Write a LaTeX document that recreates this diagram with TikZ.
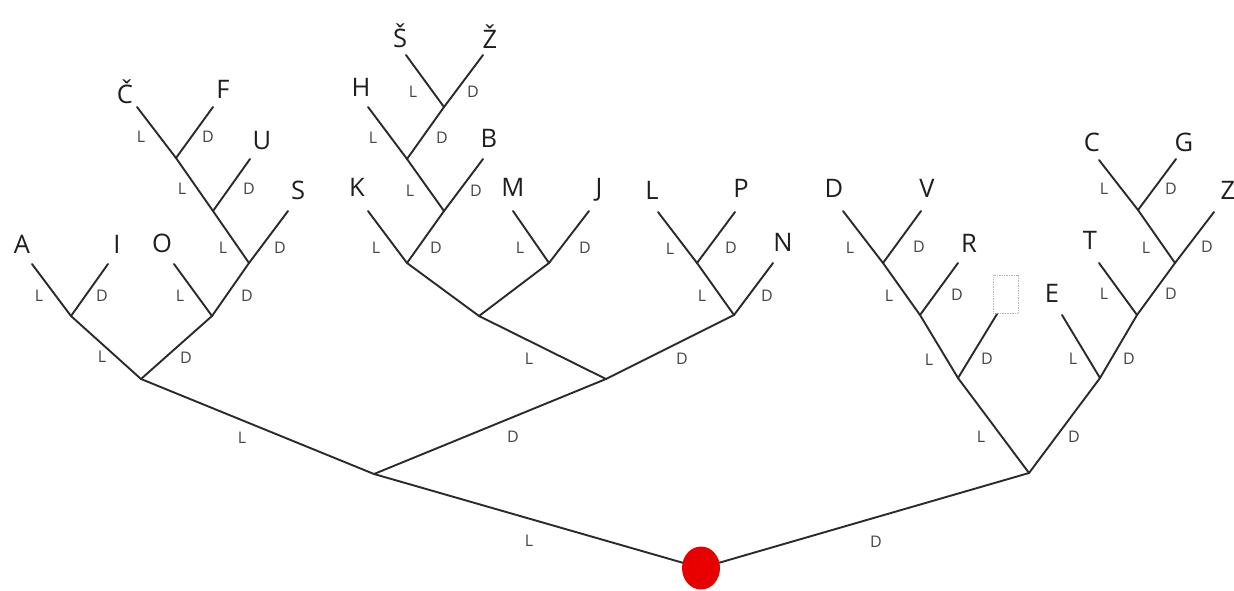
\documentclass[tikz,border=0pt]{standalone}
\usepackage{fontspec}
\setmainfont{Open Sans}
\usetikzlibrary{shapes.geometric}
\definecolor{linec}{HTML}{2A2A2A}
\definecolor{leafc}{HTML}{1E1E1E}
\definecolor{labc}{HTML}{444444}
\definecolor{rootred}{HTML}{E80000}
\tikzset{
  br/.style={draw=linec, line width=1.9pt, line cap=round, line join=round},
  leaf/.style={anchor=base, inner sep=0pt, text=leafc, font=\fontsize{25.5}{25.5}\selectfont},
  lab/.style={anchor=base, inner sep=0pt, text=labc, font=\fontsize{16}{16}\selectfont},
  rootdot/.style={ellipse, fill=rootred, draw=none, minimum width=38pt, minimum height=43pt, inner sep=0pt},
  emptybox/.style={draw=gray!60, densely dotted, line width=0.7pt}
}
\begin{document}
\begin{tikzpicture}[x=1pt, y=-1pt]
\useasboundingbox (0,0) rectangle (1234,590);
% ---- junctions ----
\node[rootdot] (root) at (701,568) {};
\coordinate (nL) at (374,474);
\coordinate (nD) at (1029,473);
\coordinate (nLL) at (141,379);
\coordinate (nLD) at (606,379);
\coordinate (nLLL) at (71,316);
\coordinate (nLLD) at (212,316);
\coordinate (nLLDD) at (249,263);
\coordinate (nU) at (213,211);
\coordinate (nCF) at (176,158);
\coordinate (nLDL) at (479,316);
\coordinate (nLDD) at (734,315);
\coordinate (nK) at (407,263);
\coordinate (nMJ) at (549,263);
\coordinate (nB) at (444,211);
\coordinate (nH) at (407,159);
\coordinate (nSZ) at (444,107);
\coordinate (nLP) at (697,263);
\coordinate (nDL) at (958,378);
\coordinate (nDD) at (1100,378);
\coordinate (nBox) at (920,315);
\coordinate (nDV) at (883,263);
\coordinate (nT) at (1137,315);
\coordinate (nZ) at (1175,263);
\coordinate (nCG) at (1138,210);
% ---- leaf line ends ----
\coordinate (eA) at (32,264);
\coordinate (eI) at (108,264);
\coordinate (eO) at (174,264);
\coordinate (eS) at (288,211);
\coordinate (eU) at (250,159);
\coordinate (eCc) at (137,107);
\coordinate (eF) at (213,107);
\coordinate (eK) at (368,211);
\coordinate (eBt) at (483,159);
\coordinate (eH) at (368,107);
\coordinate (eSs) at (406,55);
\coordinate (eZz) at (483,55);
\coordinate (eM) at (513,211);
\coordinate (eJ) at (589,211);
\coordinate (eN) at (773,263);
\coordinate (eL) at (658,212);
\coordinate (eP) at (735,212);
\coordinate (eD) at (843,211);
\coordinate (eV) at (921,211);
\coordinate (eR) at (958,263);
\coordinate (eBox) at (997,314);
\coordinate (eE) at (1062,315);
\coordinate (eT) at (1099,263);
\coordinate (eZ) at (1214,212);
\coordinate (eC) at (1099,160);
\coordinate (eG) at (1176,159);
% ---- branches ----
\draw[br] (root) -- (nL);
\draw[br] (root) -- (nD);
\draw[br] (nL) -- (nLL);
\draw[br] (nL) -- (nLD);
\draw[br] (nLL) -- (nLLL);
\draw[br] (nLL) -- (nLLD);
\draw[br] (nLLL) -- (eA);
\draw[br] (nLLL) -- (eI);
\draw[br] (nLLD) -- (eO);
\draw[br] (nLLD) -- (nLLDD);
\draw[br] (nLLDD) -- (nU);
\draw[br] (nLLDD) -- (eS);
\draw[br] (nU) -- (nCF);
\draw[br] (nU) -- (eU);
\draw[br] (nCF) -- (eCc);
\draw[br] (nCF) -- (eF);
\draw[br] (nLD) -- (nLDL);
\draw[br] (nLD) -- (nLDD);
\draw[br] (nLDL) -- (nK);
\draw[br] (nLDL) -- (nMJ);
\draw[br] (nK) -- (eK);
\draw[br] (nK) -- (nB);
\draw[br] (nB) -- (nH);
\draw[br] (nB) -- (eBt);
\draw[br] (nH) -- (eH);
\draw[br] (nH) -- (nSZ);
\draw[br] (nSZ) -- (eSs);
\draw[br] (nSZ) -- (eZz);
\draw[br] (nMJ) -- (eM);
\draw[br] (nMJ) -- (eJ);
\draw[br] (nLDD) -- (nLP);
\draw[br] (nLDD) -- (eN);
\draw[br] (nLP) -- (eL);
\draw[br] (nLP) -- (eP);
\draw[br] (nD) -- (nDL);
\draw[br] (nD) -- (nDD);
\draw[br] (nDL) -- (nBox);
\draw[br] (nDL) -- (eBox);
\draw[br] (nBox) -- (nDV);
\draw[br] (nBox) -- (eR);
\draw[br] (nDV) -- (eD);
\draw[br] (nDV) -- (eV);
\draw[br] (nDD) -- (eE);
\draw[br] (nDD) -- (nT);
\draw[br] (nT) -- (eT);
\draw[br] (nT) -- (nZ);
\draw[br] (nZ) -- (nCG);
\draw[br] (nZ) -- (eZ);
\draw[br] (nCG) -- (eC);
\draw[br] (nCG) -- (eG);
% ---- empty slot ----
\node[emptybox, minimum width=25pt, minimum height=38pt, inner sep=0pt] (slot) at (1005.5,294) {};
% ---- leaf letters ----
\node[leaf] (A) at (22,253) {A};
\node[leaf] (I) at (117,253) {I};
\node[leaf] (O) at (162,252) {O};
\node[leaf] (S) at (298,199) {S};
\node[leaf] (U) at (262,149) {U};
\node[leaf] (Cc) at (125,103) {Č};
\node[leaf] (F) at (223,98) {F};
\node[leaf] (Ss) at (400,47) {Š};
\node[leaf] (Zz) at (490,48) {Ž};
\node[leaf] (H) at (361,96) {H};
\node[leaf] (B) at (489,147) {B};
\node[leaf] (K) at (357,196) {K};
\node[leaf] (M) at (513,196) {M};
\node[leaf] (J) at (599,196) {J};
\node[leaf] (Lx) at (652,199) {L};
\node[leaf] (P) at (741,197) {P};
\node[leaf] (N) at (783,251) {N};
\node[leaf] (Dx) at (834,197) {D};
\node[leaf] (V) at (927,197) {V};
\node[leaf] (R) at (969,252) {R};
\node[leaf] (E) at (1052,302) {E};
\node[leaf] (T) at (1090,249) {T};
\node[leaf] (Z) at (1228,199) {Z};
\node[leaf] (C) at (1092,151) {C};
\node[leaf] (G) at (1184,151) {G};
% ---- branch labels ----
\node[lab] (l01) at (529,546) {L};
\node[lab] (l02) at (876,547) {D};
\node[lab] (l03) at (242,443) {L};
\node[lab] (l04) at (513,442) {D};
\node[lab] (l05) at (981,442) {L};
\node[lab] (l06) at (1074,442) {D};
\node[lab] (l07) at (102,362) {L};
\node[lab] (l08) at (186,363) {D};
\node[lab] (l09) at (529,364) {L};
\node[lab] (l10) at (682,364) {D};
\node[lab] (l11) at (39,301) {L};
\node[lab] (l12) at (102,301) {D};
\node[lab] (l13) at (180,301) {L};
\node[lab] (l14) at (247,301) {D};
\node[lab] (l15) at (223,253) {L};
\node[lab] (l16) at (280,253) {D};
\node[lab] (l17) at (182,194) {L};
\node[lab] (l18) at (249,194) {D};
\node[lab] (l19) at (141,142) {L};
\node[lab] (l20) at (208,142) {D};
\node[lab] (l21) at (376,253) {L};
\node[lab] (l22) at (436,253) {D};
\node[lab] (l23) at (520,253) {L};
\node[lab] (l24) at (585,253) {D};
\node[lab] (l25) at (410,196) {L};
\node[lab] (l26) at (476,196) {D};
\node[lab] (l27) at (373,143) {L};
\node[lab] (l28) at (442,143) {D};
\node[lab] (l29) at (413,97) {L};
\node[lab] (l30) at (473,97) {D};
\node[lab] (l31) at (670,254) {L};
\node[lab] (l32) at (731,253) {D};
\node[lab] (l33) at (702,301) {L};
\node[lab] (l34) at (767,301) {D};
\node[lab] (l35) at (850,253) {L};
\node[lab] (l36) at (919,252) {D};
\node[lab] (l37) at (889,301) {L};
\node[lab] (l38) at (957,300) {D};
\node[lab] (l39) at (929,365) {L};
\node[lab] (l40) at (987,364) {D};
\node[lab] (l41) at (1073,364) {L};
\node[lab] (l42) at (1129,364) {D};
\node[lab] (l43) at (1104,299) {L};
\node[lab] (l44) at (1171,299) {D};
\node[lab] (l45) at (1146,253) {L};
\node[lab] (l46) at (1207,252) {D};
\node[lab] (l47) at (1104,194) {L};
\node[lab] (l48) at (1171,194) {D};
\end{tikzpicture}
\end{document}
